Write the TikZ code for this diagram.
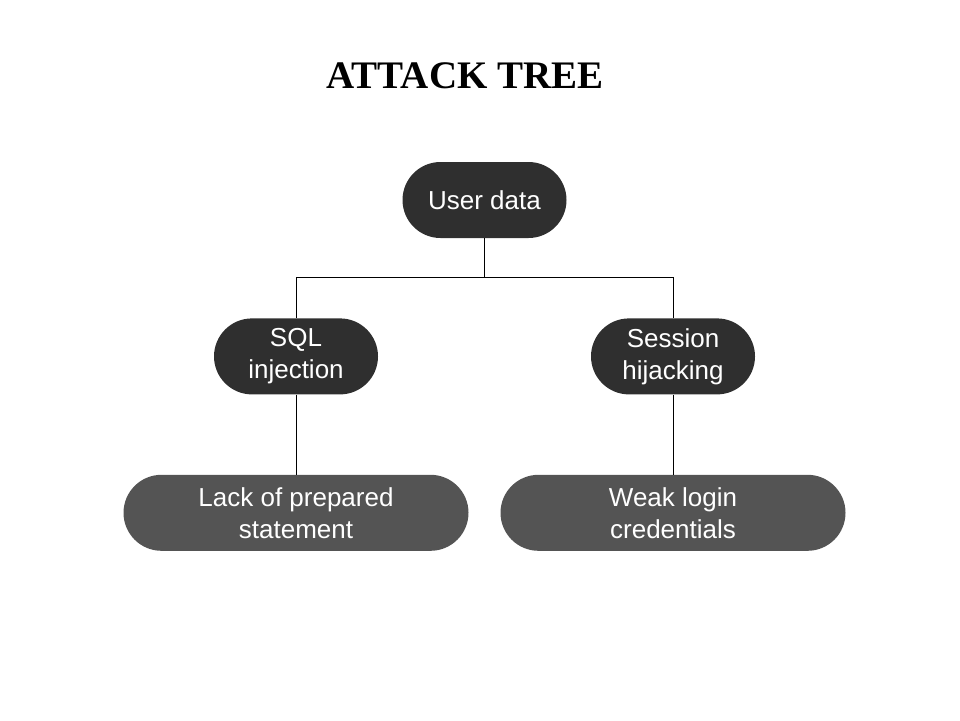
\documentclass[tikz,border=0pt]{standalone}
\usepackage{fontspec}
\setmainfont{Liberation Sans}
\newfontfamily\titlefont{Liberation Serif}
\usepackage{tikz}
\usetikzlibrary{positioning}

\definecolor{topgray}{HTML}{2F2F2F}
\definecolor{leafgray}{HTML}{545454}

\tikzset{
  pill/.style={fill=topgray,text=white,rounded corners=38pt,minimum height=76pt,
    minimum width=164pt,align=center,inner sep=0pt,
    font=\fontsize{26}{32}\selectfont},
  leaf/.style={pill,fill=leafgray,minimum width=345pt},
  link/.style={draw=black,line width=0.8pt}
}

\begin{document}
\begin{tikzpicture}
              \useasboundingbox (0,0) rectangle (960pt,-720pt);
              \node at (465pt,-76pt) (title) {\titlefont\bfseries\fontsize{39}{41}\selectfont ATTACK TREE};

              \node[pill] at (484.5pt,-200pt) (root) {User data};
              \node[pill,below=80pt of root,xshift=-188.5pt] (sql) {SQL\\injection};
              \node[pill,below=80pt of root,xshift=188.5pt] (hij) {Session\\hijacking};
              \node[leaf,below=80pt of sql] (stmt) {Lack of prepared\\statement};
              \node[leaf,below=80pt of hij] (cred) {Weak login\\credentials};

              %root>attacks
              \draw[link] (root.south) -- ++(0,-39pt) -| (sql.north);
              \draw[link] (root.south) -- ++(0,-39pt) -| (hij.north);

              %attacks>causes
              \draw[link] (sql.south) -- (stmt.north);
              \draw[link] (hij.south) -- (cred.north);
            \end{tikzpicture}
\end{document}
